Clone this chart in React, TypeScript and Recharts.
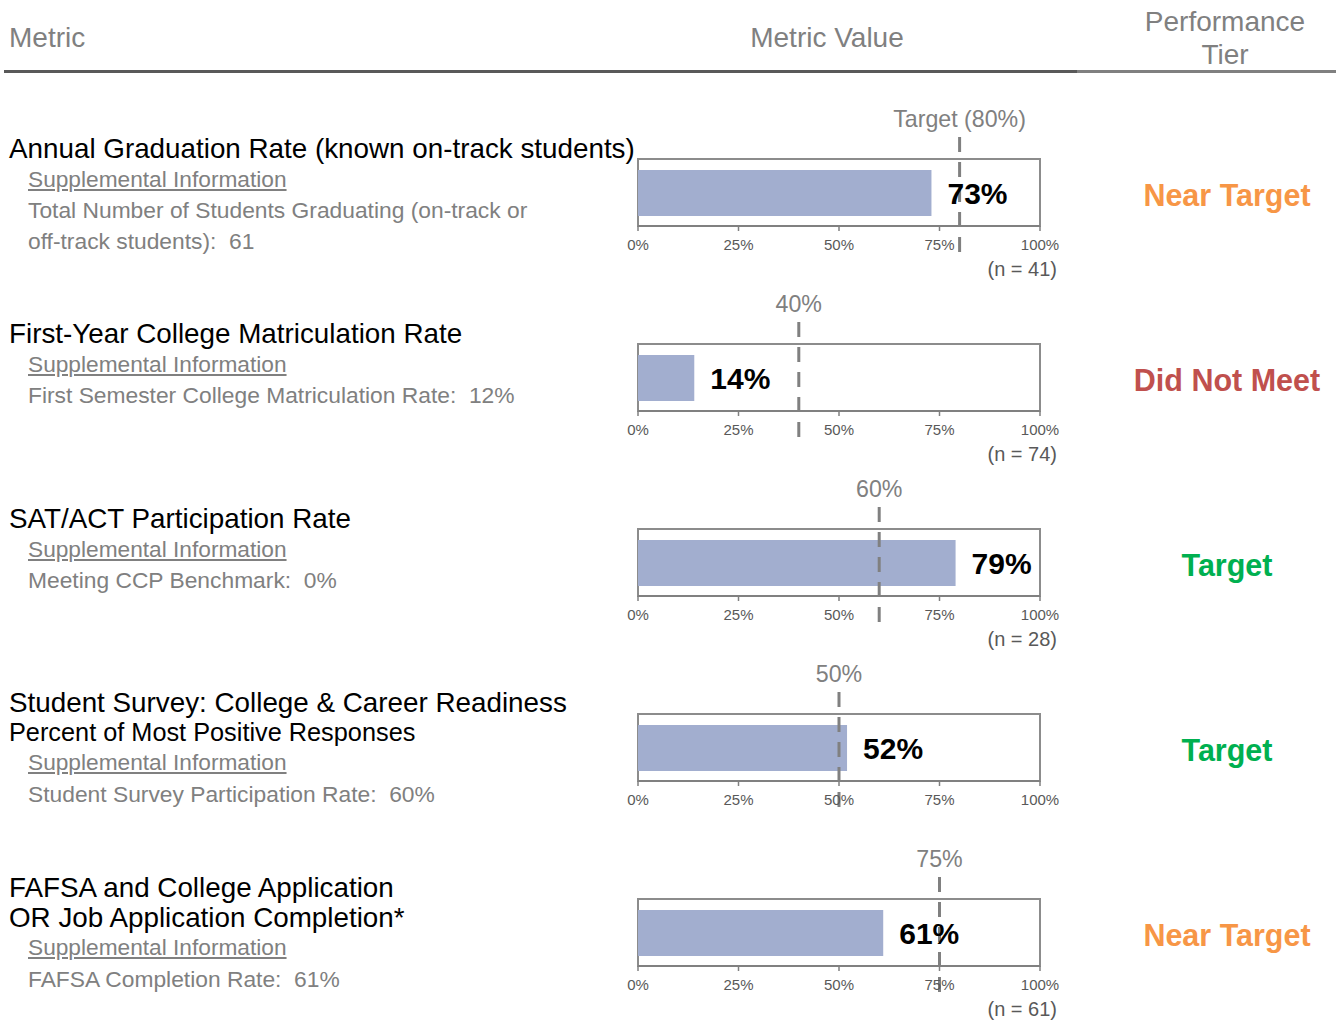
import React from 'react';
import { BarChart, Bar, XAxis, YAxis, ReferenceLine, ReferenceArea, LabelList } from 'recharts';

// ---------- data ----------
const metricTitles: string[][] = [
  ['Annual Graduation Rate (known on-track students)'],
  ['First-Year College Matriculation Rate'],
  ['SAT/ACT Participation Rate'],
  ['Student Survey: College & Career Readiness', 'Percent of Most Positive Responses'],
  ['FAFSA and College Application', 'OR Job Application Completion*'],
];
const supplementalLabel = 'Supplemental Information';
const supplementalDetails: string[][] = [
  ['Total Number of Students Graduating (on-track or', 'off-track students):  61'],
  ['First Semester College Matriculation Rate:  12%'],
  ['Meeting CCP Benchmark:  0%'],
  ['Student Survey Participation Rate:  60%'],
  ['FAFSA Completion Rate:  61%'],
];
const metricValues: number[] = [73, 14, 79, 52, 61];
const targetValues: number[] = [80, 40, 60, 50, 75];
const targetLabels: string[] = ['Target (80%)', '40%', '60%', '50%', '75%'];
const sampleSizes: (number | null)[] = [41, 74, 28, null, 61];
const performanceTiers: string[] = ['Near Target', 'Did Not Meet', 'Target', 'Target', 'Near Target'];
const tickValues: number[] = [0, 25, 50, 75, 100];
const headerLabels = { metric: 'Metric', value: 'Metric Value', tier: ['Performance', 'Tier'] };

// ---------- styles ----------
const FONT = '"Liberation Sans", Arial, Helvetica, sans-serif';
const tierColors: Record<string, string> = {
  'Near Target': '#F79646',
  'Did Not Meet': '#C0504D',
  Target: '#00B050',
};
const BAR_COLOR = '#A2AECF';
const GRAY = '#808080';

const boxTopFor = (i: number) => 159 + i * 185;

function MetricChart({ i }: { i: number }) {
  const data = [{ name: metricTitles[i][0], value: metricValues[i] }];
  const extTop = 22;
  const extBottom = 29;
  const lineShape = (p: any) => {
    const y1 = Math.min(p.y1, p.y2);
    const y2 = Math.max(p.y1, p.y2);
    return (
      <line
        x1={p.x1}
        x2={p.x2}
        y1={y1 - extTop}
        y2={y2 + extBottom}
        stroke={GRAY}
        strokeWidth={3}
        strokeDasharray="15 10"
      />
    );
  };
  return (
    <BarChart
      width={480}
      height={200}
      data={data}
      layout="vertical"
      margin={{ top: 70, right: 40, bottom: 33, left: 38 }}
    >
      <XAxis
        type="number"
        domain={[0, 100]}
        ticks={tickValues}
        interval={0}
        tickFormatter={(v: number) => `${v}%`}
        height={30}
        axisLine={{ stroke: GRAY, strokeWidth: 2 }}
        tickLine={{ stroke: GRAY, strokeWidth: 1.5 }}
        tickSize={5}
        tickMargin={8}
        tick={{ fill: '#595959', fontSize: 15 }}
      />
      <YAxis type="category" dataKey="name" hide />
      <ReferenceArea x1={0} x2={100} fill="none" fillOpacity={0} stroke="#8c8c8c" strokeWidth={2} />
      <Bar dataKey="value" fill={BAR_COLOR} barSize={46} isAnimationActive={false}>
        <LabelList
          dataKey="value"
          position="right"
          offset={16}
          formatter={(v: any) => `${v}%`}
          fill="#000"
          fontSize={30}
          fontWeight={700}
        />
      </Bar>
      <ReferenceLine
        x={targetValues[i]}
        stroke={GRAY}
        strokeWidth={3}
        strokeDasharray="15 10"
        shape={lineShape}
        label={{ value: targetLabels[i], position: 'top', offset: 32, fill: GRAY, fontSize: 23.2 }}
      />
    </BarChart>
  );
}

function MetricRow({ i }: { i: number }) {
  const boxTop = boxTopFor(i);
  const boxBottom = boxTop + 67;
  const multi = metricTitles[i].length > 1;
  const titleLH = multi ? 29.5 : 31;
  const LH = 31;
  const textTop = boxTop - 11 - titleLH / 2;
  return (
    <>
      <div style={{ position: 'absolute', left: 9, top: textTop, whiteSpace: 'nowrap' }}>
        {metricTitles[i].map((t, k) => (
          <div
            key={k}
            style={{ fontSize: i === 3 && k === 1 ? 25.3 : 27.8, color: '#000', lineHeight: `${titleLH}px` }}
          >
            {t}
          </div>
        ))}
        <div
          style={{
            fontSize: 22.7,
            color: GRAY,
            paddingLeft: 19,
            textDecoration: 'underline',
            lineHeight: `${LH}px`,
          }}
        >
          {supplementalLabel}
        </div>
        {supplementalDetails[i].map((t, k) => (
          <div
            key={k}
            style={{
              fontSize: 22.8,
              color: GRAY,
              paddingLeft: 19,
              whiteSpace: 'pre',
              lineHeight: `${multi ? 33 : LH}px`,
            }}
          >
            {t}
          </div>
        ))}
      </div>
      <div style={{ position: 'absolute', left: 600, top: boxTop - 70 }}>
        <MetricChart i={i} />
      </div>
      {sampleSizes[i] !== null && (
        <div
          style={{
            position: 'absolute',
            left: 900,
            width: 157,
            textAlign: 'right',
            top: boxBottom + 43 - 12,
            lineHeight: '24px',
            fontSize: 20,
            color: '#595959',
          }}
        >
          {`(n = ${sampleSizes[i]})`}
        </div>
      )}
      <div
        style={{
          position: 'absolute',
          left: 1117,
          width: 220,
          textAlign: 'center',
          top: boxTop + 36 - 18,
          lineHeight: '36px',
          fontSize: 30.5,
          fontWeight: 700,
          color: tierColors[performanceTiers[i]],
        }}
      >
        {performanceTiers[i]}
      </div>
    </>
  );
}

export default function App() {
  return (
    <div
      style={{
        position: 'absolute',
        left: 0,
        top: 0,
        width: 1336,
        height: 1030,
        background: '#fff',
        fontFamily: FONT,
        overflow: 'hidden',
      }}
    >
      <div style={{ position: 'absolute', left: 9, top: 38 - 16, lineHeight: '32px', fontSize: 28, color: GRAY }}>
        {headerLabels.metric}
      </div>
      <div
        style={{
          position: 'absolute',
          left: 627,
          width: 400,
          textAlign: 'center',
          top: 38 - 16,
          lineHeight: '32px',
          fontSize: 28,
          color: GRAY,
        }}
      >
        {headerLabels.value}
      </div>
      <div
        style={{
          position: 'absolute',
          left: 1075,
          width: 300,
          textAlign: 'center',
          top: 21 - 16,
          lineHeight: '33px',
          fontSize: 28,
          color: GRAY,
        }}
      >
        {headerLabels.tier.map((t, k) => (
          <div key={k}>{t}</div>
        ))}
      </div>
      <div style={{ position: 'absolute', left: 4, top: 69.5, width: 1073, height: 3, background: '#595959' }} />
      <div style={{ position: 'absolute', left: 1077, top: 69.5, width: 259, height: 3, background: GRAY }} />
      {metricValues.map((_, i) => (
        <MetricRow key={i} i={i} />
      ))}
    </div>
  );
}
